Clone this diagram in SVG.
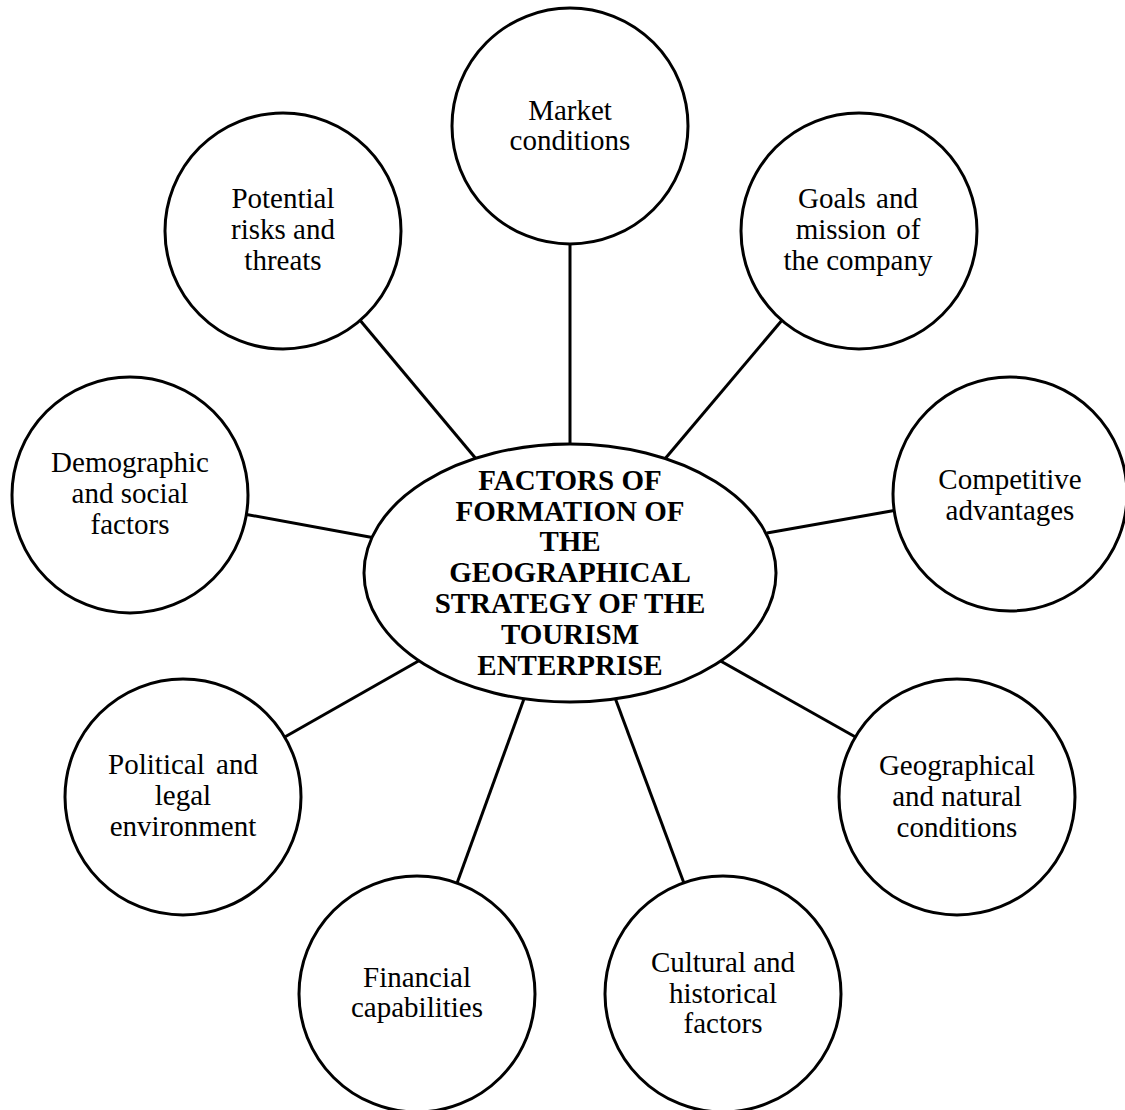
<svg xmlns="http://www.w3.org/2000/svg" width="1125" height="1110" viewBox="0 0 1125 1110">
<style>
.node{fill:#fff;stroke:#000;stroke-width:3}
.lbl{font-family:"Liberation Serif","Times New Roman",serif;font-size:29px;fill:#000;text-anchor:middle}
.title{font-family:"Liberation Serif","Times New Roman",serif;font-size:29px;font-weight:bold;fill:#000;text-anchor:middle}
.conn line{stroke:#000;stroke-width:3}
</style>
<rect width="1125" height="1110" fill="#fff"/>
<g id="connectors" class="conn">
<line x1="570" y1="240" x2="570" y2="450"/>
<line x1="783" y1="319" x2="664" y2="460"/>
<line x1="359" y1="319" x2="477" y2="460"/>
<line x1="244" y1="514" x2="375" y2="538"/>
<line x1="897" y1="510" x2="767" y2="533"/>
<line x1="859" y1="739" x2="717" y2="659"/>
<line x1="685" y1="886" x2="614" y2="695"/>
<line x1="456" y1="886" x2="525" y2="696"/>
<line x1="283" y1="738" x2="422" y2="659"/>
</g>
<g id="center">
<ellipse class="node" cx="570" cy="573" rx="206" ry="129"/>
<text class="title" x="570" y="490">FACTORS OF</text>
<text class="title" x="570" y="521">FORMATION OF</text>
<text class="title" x="570" y="551">THE</text>
<text class="title" x="570" y="582">GEOGRAPHICAL</text>
<text class="title" x="570" y="613">STRATEGY OF THE</text>
<text class="title" x="570" y="644">TOURISM</text>
<text class="title" x="570" y="675">ENTERPRISE</text>
</g>
<g id="market">
<circle class="node" cx="570" cy="126" r="118"/>
<text class="lbl" x="570" y="120">Market</text>
<text class="lbl" x="570" y="150">conditions</text>
</g>
<g id="goals">
<circle class="node" cx="859" cy="231" r="118"/>
<text class="lbl" x="858" y="208" word-spacing="3">Goals and</text>
<text class="lbl" x="858" y="239" word-spacing="3">mission of</text>
<text class="lbl" x="858" y="270">the company</text>
</g>
<g id="competitive">
<circle class="node" cx="1010" cy="494" r="117"/>
<text class="lbl" x="1010" y="489">Competitive</text>
<text class="lbl" x="1010" y="520">advantages</text>
</g>
<g id="geographical">
<circle class="node" cx="957" cy="797" r="118"/>
<text class="lbl" x="957" y="775">Geographical</text>
<text class="lbl" x="957" y="806">and natural</text>
<text class="lbl" x="957" y="837">conditions</text>
</g>
<g id="cultural">
<circle class="node" cx="723" cy="994" r="118"/>
<text class="lbl" x="723" y="972">Cultural and</text>
<text class="lbl" x="723" y="1003">historical</text>
<text class="lbl" x="723" y="1033">factors</text>
</g>
<g id="financial">
<circle class="node" cx="417" cy="994" r="118"/>
<text class="lbl" x="417" y="987">Financial</text>
<text class="lbl" x="417" y="1017">capabilities</text>
</g>
<g id="political">
<circle class="node" cx="183" cy="797" r="118"/>
<text class="lbl" x="183" y="774" word-spacing="4">Political and</text>
<text class="lbl" x="183" y="805">legal</text>
<text class="lbl" x="183" y="836">environment</text>
</g>
<g id="demographic">
<circle class="node" cx="130" cy="495" r="118"/>
<text class="lbl" x="130" y="472">Demographic</text>
<text class="lbl" x="130" y="503">and social</text>
<text class="lbl" x="130" y="534">factors</text>
</g>
<g id="potential">
<circle class="node" cx="283" cy="231" r="118"/>
<text class="lbl" x="283" y="208">Potential</text>
<text class="lbl" x="283" y="239">risks and</text>
<text class="lbl" x="283" y="270">threats</text>
</g>
</svg>
